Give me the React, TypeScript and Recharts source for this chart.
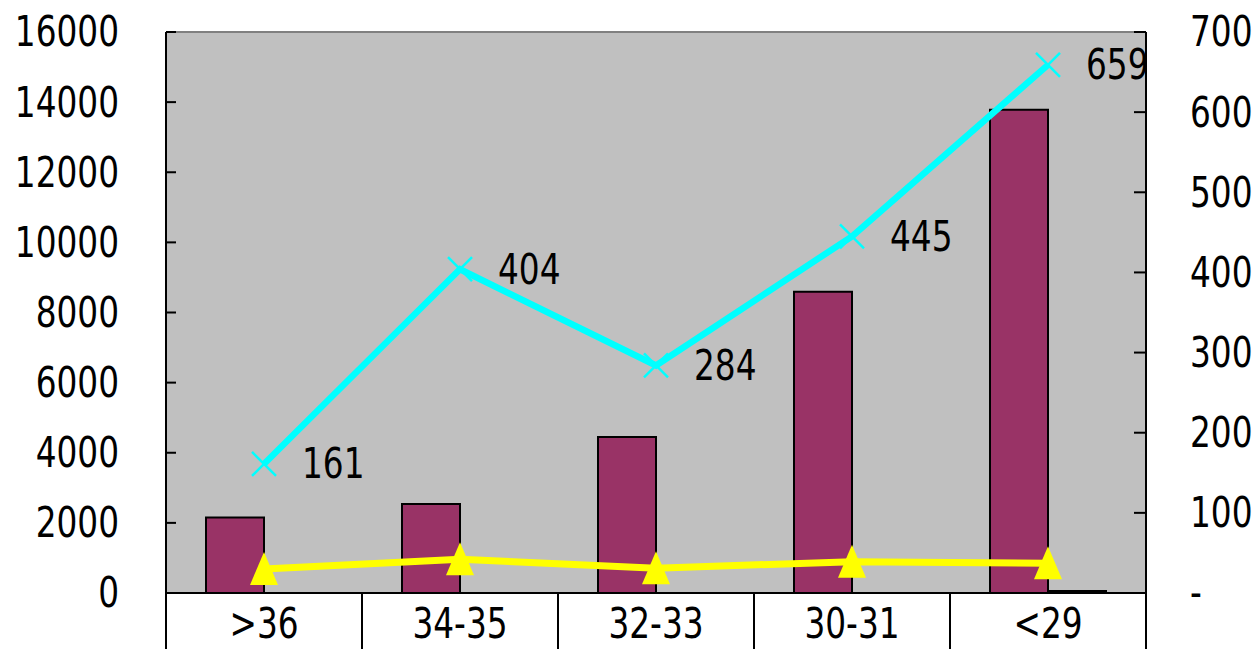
import React from 'react';
import {
    ComposedChart, Bar, Line, XAxis, YAxis, CartesianGrid, ReferenceLine, LabelList
} from 'recharts';

const categories = ['>36', '34-35', '32-33', '30-31', '<29'];
const mainBars = [2150, 2540, 4450, 8590, 13780];
const minorBars = [0, 0, 0, 0, 60];
const cyanSeries = [161, 404, 284, 445, 659];
const yellowSeries = [30, 42, 31, 39, 37];
const leftTicks = [0, 2000, 4000, 6000, 8000, 10000, 12000, 14000, 16000];
const rightTicks = [0, 100, 200, 300, 400, 500, 600, 700];

const data = categories.map((c, i) => ({
    name: c,
    main: mainBars[i],
    minor: minorBars[i],
    cyan: cyanSeries[i],
    yellow: yellowSeries[i],
}));

const W = 1259;
const H = 649;
const LEFT_W = 166;
const RIGHT_W = 113;
const BAND = (W - LEFT_W - RIGHT_W) / categories.length;

// tall, narrow text like the original
const Txt = ({ x, y, anchor = 'start', children }: any) => (
    <text
        x={0}
        y={0}
        transform={`translate(${x},${y}) scale(0.78,1)`}
        textAnchor={anchor}
        dominantBaseline="central"
        fontFamily="DejaVu Sans"
        fontSize={42}
        fill="#000"
    >
        {children}
    </text>
);

const LeftTick = (props: any) => {
    const { x, y, payload } = props;
    return (
        <g>
            <line x1={x} x2={x + 10} y1={y} y2={y} stroke="#000" strokeWidth={2} />
            <Txt x={x - 47} y={y} anchor="end">{payload.value}</Txt>
        </g>
    );
};

const RightTick = (props: any) => {
    const { x, y, payload } = props;
    return (
        <g>
            <line x1={x - 12} x2={x} y1={y} y2={y} stroke="#000" strokeWidth={2} />
            <Txt x={x + 44} y={y}>{payload.value === 0 ? '-' : payload.value}</Txt>
        </g>
    );
};

const BottomTick = (props: any) => {
    const { x, y, payload, index } = props;
    return (
        <g>
            <line x1={x - BAND / 2} x2={x - BAND / 2} y1={y} y2={H} stroke="#000" strokeWidth={2} />
            {index === categories.length - 1 && (
                <line x1={x + BAND / 2} x2={x + BAND / 2} y1={y} y2={H} stroke="#000" strokeWidth={2} />
            )}
            <Txt x={x} y={y + 31} anchor="middle">{payload.value}</Txt>
        </g>
    );
};

const CrossDot = (props: any) => {
    const { cx, cy, index } = props;
    const s = 12;
    return (
        <g key={`x-${index}`}>
            <line x1={cx - s} y1={cy - s} x2={cx + s} y2={cy + s} stroke="#00FFFF" strokeWidth={2.5} />
            <line x1={cx - s} y1={cy + s} x2={cx + s} y2={cy - s} stroke="#00FFFF" strokeWidth={2.5} />
        </g>
    );
};

const TriangleDot = (props: any) => {
    const { cx, cy, index } = props;
    return (
        <polygon
            key={`t-${index}`}
            points={`${cx},${cy - 17} ${cx + 14},${cy + 16} ${cx - 14},${cy + 16}`}
            fill="#FFFF00"
        />
    );
};

const CyanLabel = (props: any) => {
    const { x, y, value } = props;
    return <Txt x={x + 38} y={y}>{value}</Txt>;
};

const App = () => {
    return (
        <div style={{ position: 'absolute', left: 0, top: 0 }}>
            <ComposedChart
                width={W}
                height={H}
                data={data}
                margin={{ top: 32, right: 0, bottom: 0, left: 0 }}
                barCategoryGap={40}
                barGap={0}
            >
                <CartesianGrid horizontal={false} vertical={false} fill="#C0C0C0" stroke="none" />
                <XAxis
                    dataKey="name"
                    height={H - 593}
                    tickSize={0}
                    tickMargin={0}
                    tickLine={false}
                    axisLine={{ stroke: '#000', strokeWidth: 2 }}
                    tick={<BottomTick />}
                    interval={0}
                />
                <YAxis
                    yAxisId="left"
                    width={LEFT_W}
                    domain={[0, 16000]}
                    ticks={leftTicks}
                    tickSize={0}
                    tickMargin={0}
                    tickLine={false}
                    axisLine={{ stroke: '#000', strokeWidth: 2 }}
                    tick={<LeftTick />}
                    interval={0}
                />
                <YAxis
                    yAxisId="right"
                    orientation="right"
                    width={RIGHT_W}
                    domain={[0, 700]}
                    ticks={rightTicks}
                    tickSize={0}
                    tickMargin={0}
                    tickLine={false}
                    axisLine={{ stroke: '#000', strokeWidth: 2 }}
                    tick={<RightTick />}
                    interval={0}
                />
                <ReferenceLine yAxisId="left" y={16000} stroke="#808080" strokeWidth={2} />
                <Bar yAxisId="left" dataKey="main" fill="#993366" stroke="#000" strokeWidth={2} isAnimationActive={false} />
                <Bar yAxisId="left" dataKey="minor" fill="#000" stroke="#000" strokeWidth={2} isAnimationActive={false} />
                <Line
                    yAxisId="right"
                    dataKey="cyan"
                    stroke="#00FFFF"
                    strokeWidth={6.5}
                    dot={<CrossDot />}
                    activeDot={false}
                    isAnimationActive={false}
                >
                    <LabelList dataKey="cyan" content={<CyanLabel />} />
                </Line>
                <Line
                    yAxisId="right"
                    dataKey="yellow"
                    stroke="#FFFF00"
                    strokeWidth={7}
                    dot={<TriangleDot />}
                    activeDot={false}
                    isAnimationActive={false}
                />
            </ComposedChart>
        </div>
    );
};

export default App;
